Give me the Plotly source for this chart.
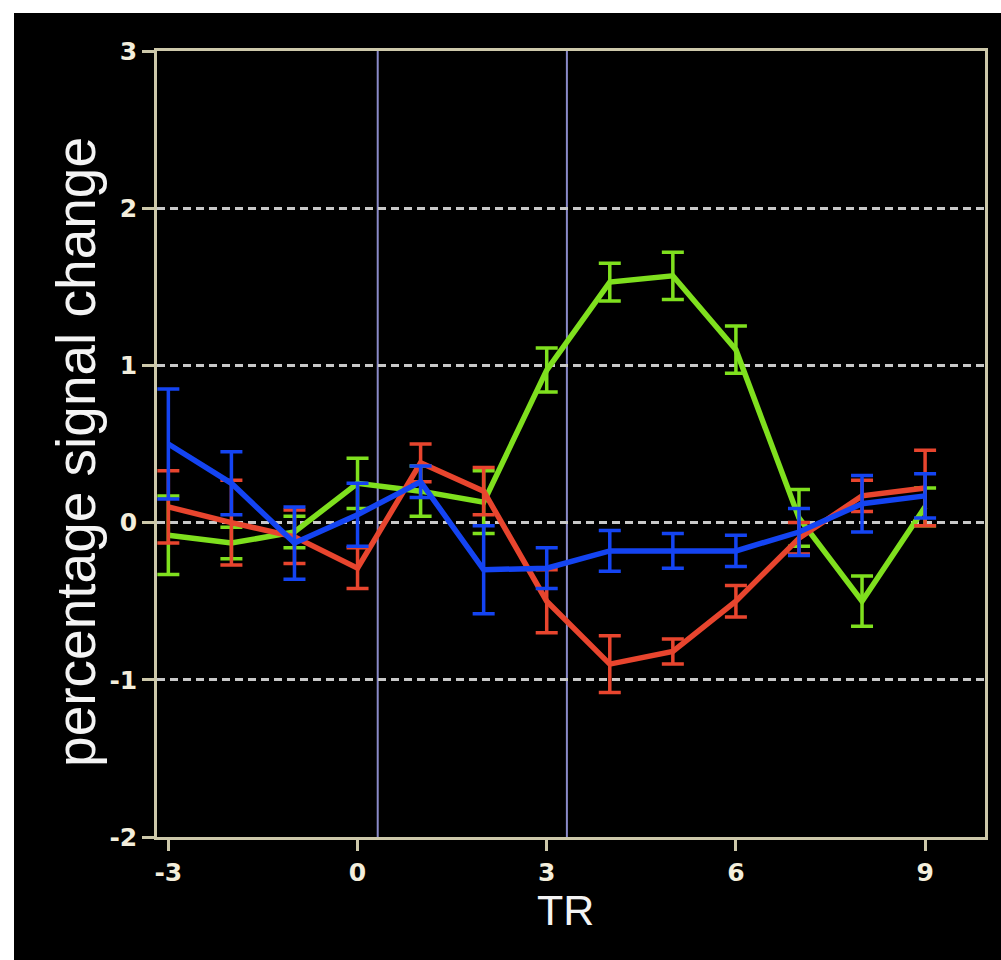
import plotly.graph_objects as go

# ---- data ----
tr = [-3, -2, -1, 0, 1, 2, 3, 4, 5, 6, 7, 8, 9]

green = [-0.08, -0.13, -0.06, 0.25, 0.20, 0.13, 0.97, 1.53, 1.57, 1.10, 0.03, -0.50, 0.10]
green_err = [0.25, 0.10, 0.10, 0.16, 0.16, 0.20, 0.14, 0.12, 0.15, 0.15, 0.18, 0.16, 0.12]

red = [0.10, 0.00, -0.09, -0.29, 0.38, 0.20, -0.50, -0.90, -0.82, -0.50, -0.10, 0.17, 0.22]
red_err = [0.23, 0.27, 0.17, 0.13, 0.12, 0.15, 0.20, 0.18, 0.08, 0.10, 0.10, 0.10, 0.24]

blue = [0.50, 0.25, -0.13, 0.05, 0.26, -0.30, -0.29, -0.18, -0.18, -0.18, -0.06, 0.12, 0.17]
blue_err = [0.35, 0.20, 0.23, 0.20, 0.10, 0.28, 0.13, 0.13, 0.11, 0.10, 0.15, 0.18, 0.14]

x_tickvals = [-3, 0, 3, 6, 9]
x_ticktext = ["-3", "0", "3", "6", "9"]
y_tickvals = [-2, -1, 0, 1, 2, 3]
y_ticktext = ["-2", "-1", "0", "1", "2", "3"]
event_lines = [0.32, 3.32]

series = [
    ("green", green, green_err, "#7fe01e"),
    ("red", red, red_err, "#e8452e"),
    ("blue", blue, blue_err, "#1444f2"),
]

fig = go.Figure()
for name, ys, errs, col in series:
    fig.add_trace(go.Scatter(
        x=tr, y=ys, mode="lines", name=name,
        line=dict(color=col, width=5.5),
        error_y=dict(type="data", array=errs, visible=True,
                     color=col, thickness=3.5, width=11),
        showlegend=False,
    ))

for xv in event_lines:
    fig.add_shape(type="line", xref="x", yref="paper", x0=xv, x1=xv, y0=0, y1=1,
                  line=dict(color="#8a8ac8", width=2), layer="between")

frame = "#cdc8aa"
tickfont = dict(family="DejaVu Sans", size=25, color="#f3eedc", weight="bold")

fig.update_xaxes(
    range=[-3.18, 9.95], tickvals=x_tickvals, ticktext=x_ticktext,
    showgrid=False, zeroline=False,
    showline=True, linecolor=frame, linewidth=2.5, mirror=True,
    ticks="outside", ticklen=11, tickwidth=2.5, tickcolor=frame,
    tickfont=tickfont,
)
fig.update_yaxes(
    range=[-2, 3], tickvals=y_tickvals, ticktext=y_ticktext,
    showgrid=True, gridcolor="#c8c8c8", gridwidth=2.5, griddash="8px,5px",
    zeroline=False,
    showline=True, linecolor=frame, linewidth=2.5, mirror=True,
    ticks="outside", ticklen=12, tickwidth=2.5, tickcolor=frame,
    tickfont=tickfont,
)

# axis titles as annotations for precise placement
fig.add_annotation(text="percentage signal change", xref="paper", yref="paper",
                   x=-0.0978, y=0.490, xanchor="center", yanchor="middle",
                   textangle=-90, showarrow=False,
                   font=dict(family="Liberation Sans", size=55, color="#f4f4f4"))
fig.add_annotation(text="TR", xref="paper", yref="paper",
                   x=0.4928, y=-0.0933, xanchor="center", yanchor="middle",
                   showarrow=False,
                   font=dict(family="Liberation Sans", size=43, color="#f4f4f4"))

# white strips on top and left edges of the picture
fig.add_shape(type="rect", xref="paper", yref="paper", x0=-0.2, x1=-0.1727, y0=-0.2, y1=1.1,
              fillcolor="white", line=dict(width=0), layer="above")
fig.add_shape(type="rect", xref="paper", yref="paper", x0=-0.2, x1=1.05, y0=1.0484, y1=1.1,
              fillcolor="white", line=dict(width=0), layer="above")

fig.update_layout(
    width=1001, height=960,
    margin=dict(l=157, r=16, t=51, b=123),
    paper_bgcolor="black", plot_bgcolor="black",
)

fig.write_html("out.html")
